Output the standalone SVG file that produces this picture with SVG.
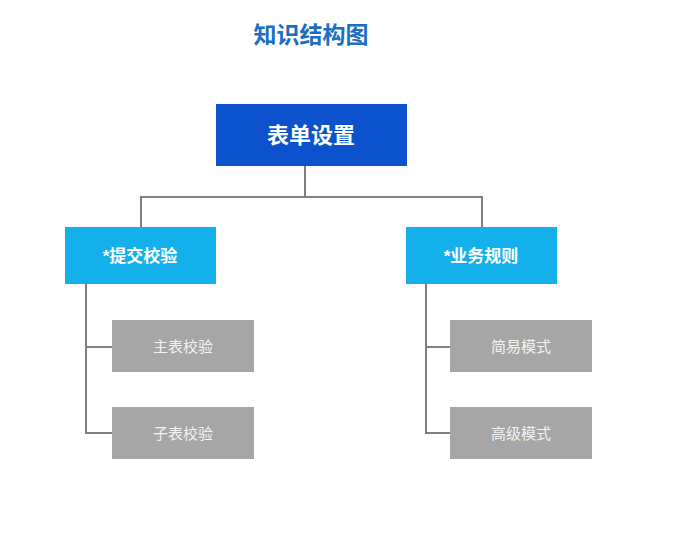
<svg xmlns="http://www.w3.org/2000/svg" width="695" height="547" viewBox="0 0 695 547">
<style>
text{font-family:"Liberation Sans","Noto Sans CJK SC",sans-serif;text-anchor:middle;dominant-baseline:central}
.title{font-size:23px;font-weight:bold;fill:#1a6ec2}
.root rect{fill:#0b52cc}
.root text{fill:#fff;font-size:22px;font-weight:bold}
.mid rect{fill:#14b0ec}
.mid text{fill:#fff;font-size:17px;font-weight:bold}
.leaf rect{fill:#a6a6a6}
.leaf text{fill:#f2f2f2;font-size:15px}
.conn path{fill:none;stroke:#7f7f7f;stroke-width:2}
</style>
<rect width="695" height="547" fill="#fff"/>
<text class="title" x="311" y="35">知识结构图</text>
<g class="conn">
<path d="M305,166V197M141,227V197H482V227"/>
<path d="M86,284V433H112M86,347H112"/>
<path d="M426,284V433H450M426,347H450"/>
</g>
<g id="root" class="root"><rect x="216" y="104" width="191" height="62"/><text x="311" y="135">表单设置</text></g>
<g id="submit" class="mid"><rect x="65" y="227" width="151" height="57"/><text x="140" y="256">*提交校验</text></g>
<g id="rule" class="mid"><rect x="406" y="227" width="151" height="57"/><text x="481" y="256">*业务规则</text></g>
<g id="main" class="leaf"><rect x="112" y="320" width="142" height="52"/><text x="183" y="346">主表校验</text></g>
<g id="sub" class="leaf"><rect x="112" y="407" width="142" height="52"/><text x="183" y="433">子表校验</text></g>
<g id="simple" class="leaf"><rect x="450" y="320" width="142" height="52"/><text x="521" y="346">简易模式</text></g>
<g id="adv" class="leaf"><rect x="450" y="407" width="142" height="52"/><text x="521" y="433">高级模式</text></g>
</svg>
